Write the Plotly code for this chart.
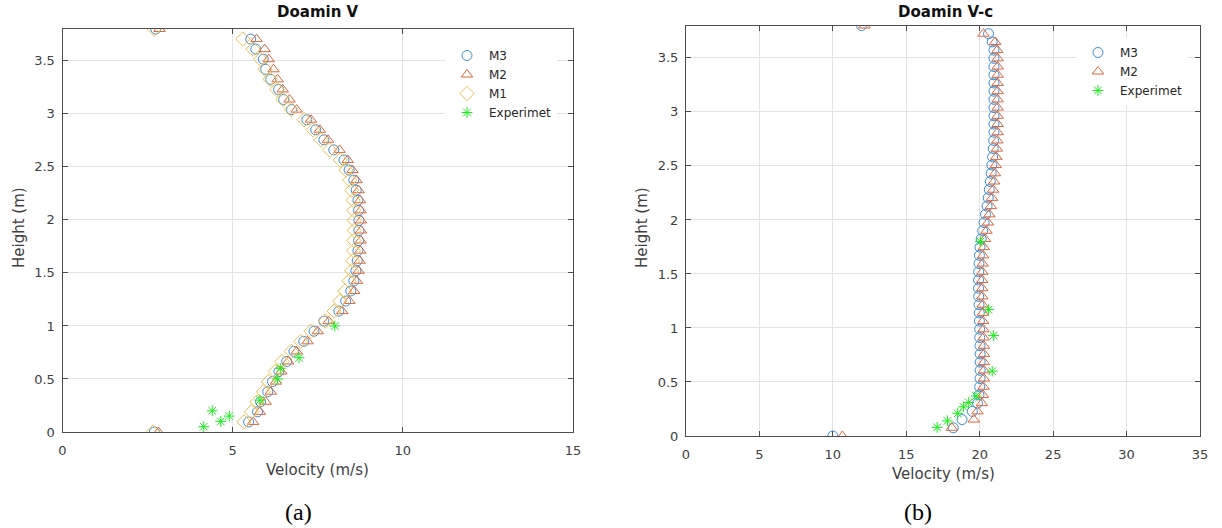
import plotly.graph_objects as go

# ---------------- data : panel (a) Doamin V ----------------
height_a = [0.0, 0.095, 0.19, 0.285, 0.38, 0.475, 0.57, 0.665, 0.76, 0.855,
            0.95, 1.045, 1.14, 1.235, 1.33, 1.425, 1.52, 1.615, 1.71, 1.805,
            1.9, 1.995, 2.09, 2.185, 2.28, 2.375, 2.47, 2.565, 2.66, 2.755,
            2.85, 2.945, 3.04, 3.135, 3.23, 3.325, 3.42, 3.515, 3.61, 3.705, 3.8]
m3_a = [2.70, 5.47, 5.73, 5.82, 6.03, 6.17, 6.36, 6.59, 6.80, 7.09,
        7.39, 7.68, 8.12, 8.32, 8.47, 8.56, 8.62, 8.66, 8.68, 8.70,
        8.71, 8.71, 8.70, 8.68, 8.63, 8.56, 8.42, 8.27, 7.97, 7.68,
        7.44, 7.18, 6.73, 6.50, 6.35, 6.12, 5.97, 5.90, 5.68, 5.53, 2.74]
m2_a = [2.82, 5.60, 5.80, 5.97, 6.12, 6.27, 6.43, 6.63, 6.88, 7.20,
        7.50, 7.82, 8.22, 8.43, 8.57, 8.65, 8.70, 8.73, 8.75, 8.76,
        8.77, 8.77, 8.76, 8.74, 8.70, 8.64, 8.52, 8.38, 8.14, 7.80,
        7.56, 7.30, 6.88, 6.67, 6.47, 6.32, 6.20, 6.06, 5.94, 5.70, 2.85]
m1_a = [2.66, 5.33, 5.55, 5.72, 5.90, 6.05, 6.25, 6.45, 6.72, 7.00,
        7.30, 7.72, 7.98, 8.15, 8.30, 8.42, 8.50, 8.53, 8.55, 8.56,
        8.57, 8.57, 8.56, 8.54, 8.50, 8.44, 8.33, 8.16, 7.85, 7.60,
        7.36, 7.10, 6.72, 6.48, 6.30, 6.10, 5.95, 5.82, 5.60, 5.30, 2.70]
exp_a_v = [4.15, 4.65, 4.90, 4.40, 5.80, 6.32, 6.40, 6.95, 8.00]
exp_a_h = [0.05, 0.10, 0.15, 0.20, 0.30, 0.50, 0.60, 0.70, 1.00]

# ---------------- data : panel (b) Doamin V-c ----------------
height_b = [0.0, 0.076, 0.152, 0.228, 0.304, 0.38, 0.456, 0.532, 0.608, 0.684,
            0.76, 0.836, 0.912, 0.988, 1.064, 1.14, 1.216, 1.292, 1.368, 1.444,
            1.52, 1.596, 1.672, 1.748, 1.824, 1.9, 1.976, 2.052, 2.128, 2.204,
            2.28, 2.356, 2.432, 2.508, 2.584, 2.66, 2.736, 2.812, 2.888, 2.964,
            3.04, 3.116, 3.192, 3.268, 3.344, 3.42, 3.496, 3.572, 3.648, 3.724, 3.8]
m3_b = [10.00, 18.20, 18.80, 19.50, 19.85, 19.95, 20.00, 20.02, 20.03, 20.03,
        20.03, 20.02, 20.00, 20.00, 19.98, 19.97, 19.95, 19.93, 19.92, 19.92,
        19.93, 19.95, 19.98, 20.02, 20.10, 20.20, 20.30, 20.40, 20.50, 20.58,
        20.65, 20.72, 20.78, 20.83, 20.88, 20.92, 20.95, 20.97, 20.97, 20.97,
        20.97, 20.97, 20.97, 20.97, 20.97, 20.97, 20.97, 20.97, 20.85, 20.60, 11.95]
m2_b = [10.65, 18.10, 19.60, 19.85, 20.15, 20.22, 20.26, 20.28, 20.29, 20.29,
        20.29, 20.28, 20.26, 20.25, 20.23, 20.22, 20.20, 20.18, 20.17, 20.17,
        20.18, 20.20, 20.23, 20.28, 20.36, 20.46, 20.56, 20.66, 20.76, 20.84,
        20.91, 20.98, 21.04, 21.09, 21.13, 21.17, 21.20, 21.22, 21.22, 21.22,
        21.22, 21.22, 21.22, 21.22, 21.22, 21.22, 21.22, 21.20, 21.05, 20.25, 12.15]
exp_b_v = [17.10, 17.80, 18.50, 18.90, 19.25, 19.75, 20.85, 20.95, 20.60, 20.05]
exp_b_h = [0.08, 0.14, 0.21, 0.27, 0.31, 0.37, 0.60, 0.93, 1.17, 1.80]

# ---------------- style ----------------
C_M3 = "#3a8fd3"
C_M2 = "#e0653a"
C_M1 = "#f0bf4c"
C_EX = "#1aee1a"
FONT = "DejaVu Sans"
TICK_C = "#404040"
W, H = 1222, 528

fig = go.Figure()

def add(x, y, name, symbol, color, xa, ya, leg, size=10):
    fig.add_trace(go.Scatter(
        x=x, y=y, mode="markers", name=name, xaxis=xa, yaxis=ya, legend=leg,
        marker=dict(symbol=symbol, size=size, color=color,
                    line=dict(color=color, width=1)),
    ))

add(m3_a, height_a, "M3", "circle-open", C_M3, "x", "y", "legend")
add(m2_a, height_a, "M2", "triangle-up-open", C_M2, "x", "y", "legend")
add(m1_a, height_a, "M1", "diamond-open", C_M1, "x", "y", "legend", size=11)
add(exp_a_v, exp_a_h, "Experimet", "asterisk-open", C_EX, "x", "y", "legend", size=9)

add(m3_b, height_b, "M3", "circle-open", C_M3, "x2", "y2", "legend2")
add(m2_b, height_b, "M2", "triangle-up-open", C_M2, "x2", "y2", "legend2")
add(exp_b_v, exp_b_h, "Experimet", "asterisk-open", C_EX, "x2", "y2", "legend2", size=9)

axis_common = dict(
    showline=True, linecolor="#4d4d4d", linewidth=1, mirror="ticks",
    ticks="inside", ticklen=5, tickcolor="#4d4d4d",
    showgrid=True, gridcolor="#e3e3e3", gridwidth=1, zeroline=False,
    tickfont=dict(family=FONT, size=13, color=TICK_C), automargin=False,
)

def px_x(p):
    return p / W

def px_y(p):
    return (H - p) / H

fig.update_layout(
    width=W, height=H,
    margin=dict(l=0, r=0, t=0, b=0, pad=0, autoexpand=False),
    paper_bgcolor="white", plot_bgcolor="white",
    xaxis=dict(domain=[px_x(62.5), px_x(573)], range=[0, 15], dtick=5, tick0=0,
               anchor="y", ticklabelstandoff=6, **axis_common),
    yaxis=dict(domain=[px_y(432), px_y(29)], range=[0, 3.8], dtick=0.5, tick0=0,
               anchor="x", ticklabelstandoff=4, **axis_common),
    xaxis2=dict(domain=[px_x(686), px_x(1200)], range=[0, 35], dtick=5, tick0=0,
                anchor="y2", ticklabelstandoff=6, **axis_common),
    yaxis2=dict(domain=[px_y(436), px_y(25.5)], range=[0, 3.8], dtick=0.5, tick0=0,
                anchor="x2", ticklabelstandoff=4, **axis_common),
    legend=dict(x=px_x(445), y=px_y(41), xanchor="left", yanchor="top",
                bgcolor="white", borderwidth=0, itemwidth=34,
                font=dict(family=FONT, size=12, color="#262626")),
    legend2=dict(x=px_x(1076), y=px_y(38), xanchor="left", yanchor="top",
                 bgcolor="white", borderwidth=0, itemwidth=34,
                 font=dict(family=FONT, size=12, color="#262626")),
    showlegend=True,
)

ann = []

def text(t, cx, cy, size, family=FONT, color=TICK_C, angle=0):
    ann.append(dict(text=t, x=px_x(cx), y=px_y(cy), xref="paper", yref="paper",
                    xanchor="center", yanchor="middle", showarrow=False,
                    textangle=angle, font=dict(family=family, size=size, color=color)))

# titles
text("<b>Doamin V</b>", (62.5 + 573) / 2, 12, 15, color="#111111")
text("<b>Doamin V-c</b>", 946, 12, 15, color="#111111")
# axis titles
text("Velocity (m/s)", (62.5 + 573) / 2, 470, 15)
text("Velocity (m/s)", (686 + 1200) / 2, 474, 15)
text("Height (m)", 19, 228, 15, angle=-90)
text("Height (m)", 642, 228, 15, angle=-90)
# captions
text("(a)", 298, 512, 24, family="Liberation Serif", color="#000000")
text("(b)", 918, 512, 24, family="Liberation Serif", color="#000000")
fig.update_layout(annotations=ann)

fig.write_html("out.html")
